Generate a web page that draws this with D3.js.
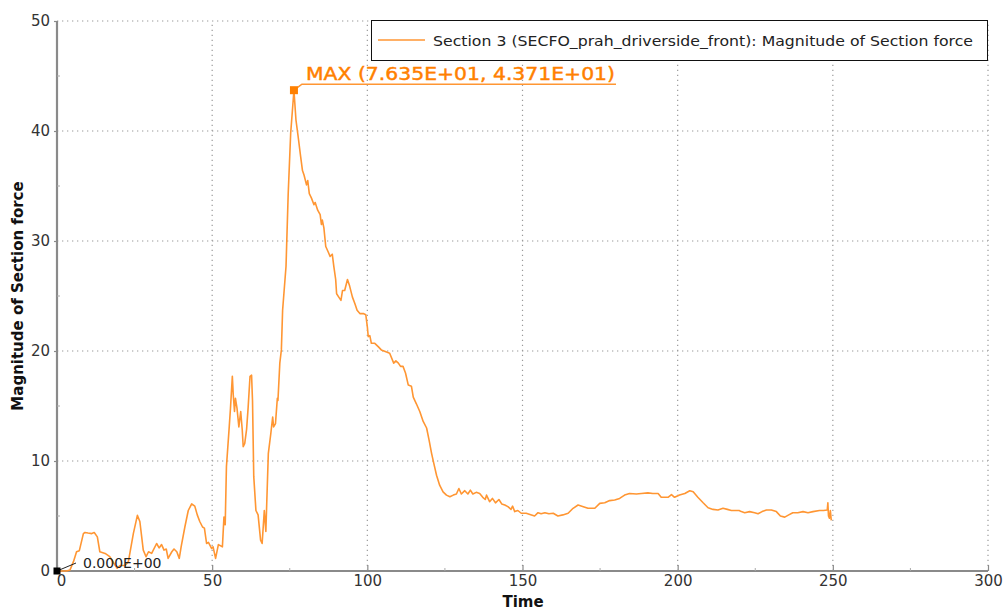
<!DOCTYPE html>
<html><head><meta charset="utf-8">
<script src="https://cdn.jsdelivr.net/npm/d3@7"></script>
<style>
html,body{margin:0;padding:0;background:#fff;}
svg{display:block;font-family:"DejaVu Sans",sans-serif;}
</style></head><body>
<svg id="c" width="1006" height="610"></svg>
<script>
const time = [0,3,4.2,5.3,6.3,7.2,8.5,9.0,10,11.2,12,13,13.8,15.5,17,18.7,19.4,20.3,21.9,23,24.6,25.9,26.7,27.8,28.7,29.5,30.5,32.1,32.9,33.7,34.5,35.2,35.8,37,37.7,38.6,39.4,40,41.2,42.3,43.4,44.4,45.2,46,46.9,47.5,48.2,48.8,49.8,50.3,51.1,52,53.3,53.8,54.2,54.6,55.5,55.9,56.5,56.8,57.2,57.5,58,58.6,59.2,59.7,60,60.5,61.1,61.6,62.2,62.7,63,63.4,64.1,64.8,65.6,66.1,66.8,67.3,68.1,68.9,69.5,69.8,70.4,71,71.2,71.8,72.3,72.7,73.8,74.5,75.3,76.35,77,77.7,78.5,79.1,79.6,80.4,80.8,81.3,82,82.8,83.2,84,84.8,85.2,85.5,86,86.6,87.4,88,88.7,89.2,89.8,90.1,90.8,91.5,92,92.7,93.6,94.3,95.2,96,96.7,97.6,98.7,99.5,100,100.3,100.8,101.3,102.4,103.5,104.5,106.2,107.2,108.5,109.2,110,110.7,111.5,112.3,113.2,114.2,114.8,115.8,116.9,118,119.1,119.9,120.7,121.4,122.3,123.3,124.4,125.5,126.6,127.7,128.7,129.5,130.3,131.4,132.4,133.2,134,135.1,136.2,137.2,138,138.4,139.4,140.3,141.3,142.4,143.3,144.3,145.3,146.3,146.8,147.5,148.5,149.6,151.2,152.9,153.9,155,156,157.2,158.5,159.9,161.4,163,164.7,166.3,167.9,169.6,171.1,173.3,174.9,176.5,178.1,179.7,181.3,182.9,184.5,186.7,188.3,190.4,192,193.7,194.7,196.9,198,199,200.6,202.3,203.9,205,206.5,208.2,209.8,211.4,213,214.6,216,217.3,219.8,220.5,221.6,223.2,224.8,225.9,227.2,228.6,230.2,231.8,233.1,234.5,235.8,237.1,238.7,240.4,242,243.6,245.7,247,248.2,248.4,248.6,248.9,249.2,249.5];
const force = [0,0,0.1,0.85,1.75,1.85,3.4,3.5,3.45,3.4,3.5,3.1,1.75,1.6,1.3,0.55,0.25,0.5,0.5,0.85,3.4,5.06,4.5,1.9,1.3,1.75,1.6,2.5,2.1,2.4,1.9,2.0,1.15,1.75,2.0,1.75,1.15,2.2,4.0,5.5,6.1,5.9,5.1,4.5,4.0,3.9,2.5,2.6,2.05,2.2,1.15,2.4,2.2,4.9,4.2,9.5,13.1,14.8,17.7,16.0,14.5,15.7,14.8,13.1,14.5,12.8,11.3,11.6,12.9,14.9,17.7,17.8,15.5,8.6,5.5,5.1,2.8,2.5,5.5,3.6,10.7,12.5,14.0,13.1,13.4,15.7,15.5,18.9,20.1,23.7,27.7,34.3,39.8,43.71,41,39.5,37.7,36.4,36.0,35.1,35.5,34.3,33.9,33.3,33.5,32.8,32.4,31.5,31.9,31.2,29.5,29.0,28.6,28.8,27.7,26.5,25.2,24.9,24.6,25.5,25.5,26.5,25.9,24.9,24.3,23.7,23.4,23.4,23.3,22.2,21.3,21.4,20.7,20.7,20.4,20.1,19.9,19.8,18.9,19.1,18.9,18.6,18.6,18.0,16.9,16.8,15.8,15.2,14.5,13.6,13.0,11.9,10.7,9.8,8.7,7.8,7.2,6.9,6.75,6.9,7.0,7.5,7.0,7.3,7.0,7.35,7.0,7.15,7.05,6.7,6.5,6.9,6.3,6.6,6.2,6.5,6.1,6.0,5.85,5.6,5.9,5.4,5.5,5.25,5.25,5.1,5.0,5.3,5.2,5.3,5.2,5.25,5.0,5.1,5.25,5.7,6.0,5.85,5.7,5.7,6.15,6.2,6.4,6.45,6.6,6.9,7.05,7.0,7.05,7.1,7.05,7.05,6.7,6.7,6.95,6.7,6.9,7.05,7.3,7.2,6.7,6.2,5.75,5.6,5.55,5.7,5.6,5.5,5.5,5.4,5.3,5.4,5.3,5.2,5.4,5.55,5.55,5.4,5.0,4.9,5.1,5.3,5.3,5.4,5.3,5.4,5.5,5.5,5.55,6.2,5.0,4.8,5.5,4.6];
const xTicks = [0,50,100,150,200,250,300];
const yTicks = [0,10,20,30,40,50];
const xMinor = [25,75,125,175,225,275];
const yMinor = [5,15,25,35,45];
const seriesName = "Section 3 (SECFO_prah_driverside_front): Magnitude of Section force";
const xTitle = "Time";
const yTitle = "Magnitude of Section force";
const maxLabel = "MAX (7.635E+01, 4.371E+01)";
const minLabel = "0.000E+00";
const maxPoint = [76.35, 43.71];
const minPoint = [0, 0];

const svg = d3.select("#c");
const x = d3.scaleLinear().domain([0,300]).range([57,988]);
const y = d3.scaleLinear().domain([0,50]).range([571,21]);
const orange = "#ff8000";
const lineCol = "#ff9633";

// grid
const g = svg.append("g");
g.selectAll(".gx").data(xTicks.filter(d=>d>0)).join("line")
  .attr("x1",d=>x(d)).attr("x2",d=>x(d)).attr("y1",y(0)).attr("y2",y(50))
  .attr("stroke","#9a9a9a").attr("stroke-width",1.2).attr("stroke-dasharray","1.3,3.7");
g.selectAll(".gy").data(yTicks.filter(d=>d>0)).join("line")
  .attr("y1",d=>y(d)).attr("y2",d=>y(d)).attr("x1",x(0)).attr("x2",x(300))
  .attr("stroke","#9a9a9a").attr("stroke-width",1.2).attr("stroke-dasharray","1.3,3.7");

// axes
const xa = svg.append("g").attr("transform",`translate(0,${y(0)})`)
  .call(d3.axisBottom(x).tickValues(xTicks).tickSize(-6).tickPadding(4).tickFormat(d3.format("d")));
const ya = svg.append("g").attr("transform",`translate(${x(0)},0)`)
  .call(d3.axisLeft(y).tickValues(yTicks).tickSize(3).tickPadding(4).tickFormat(d3.format("d")));
[xa,ya].forEach(a=>{
  a.select(".domain").attr("stroke","#8a8a8a").attr("stroke-width",2.2);
  a.selectAll(".tick line").attr("stroke","#8a8a8a").attr("stroke-width",1.2);
  a.selectAll("text").attr("fill","#333").style("font-size","15px").style("font-family","DejaVu Sans");
});
xa.selectAll(".tick").filter(d=>d===0).select("text").attr("dx",4);
xa.selectAll(".domain").attr("d",`M${x(0)},0H${x(300)}`);
ya.selectAll(".domain").attr("d",`M0,${y(0)}V${y(50)}`);
// minor ticks
svg.append("g").selectAll("line").data(xMinor).join("line")
  .attr("x1",d=>x(d)).attr("x2",d=>x(d)).attr("y1",y(0)).attr("y2",y(0)-3)
  .attr("stroke","#aaa").attr("stroke-width",1);
svg.append("g").selectAll("line").data(yMinor).join("line")
  .attr("y1",d=>y(d)).attr("y2",d=>y(d)).attr("x1",x(0)).attr("x2",x(0)+3)
  .attr("stroke","#aaa").attr("stroke-width",1);

// titles
svg.append("text").attr("x",523).attr("y",607).attr("text-anchor","middle")
  .attr("font-weight","bold").attr("font-size",15).attr("fill","#111").text(xTitle);
svg.append("text").attr("transform","translate(23,296) rotate(-90)").attr("text-anchor","middle")
  .attr("font-weight","bold").attr("font-size",15).attr("fill","#111").text(yTitle);

// series
const data = time.map((t,i)=>[t,force[i]]);
svg.append("path").datum(data)
  .attr("d", d3.line().x(d=>x(d[0])).y(d=>y(d[1])))
  .attr("fill","none").attr("stroke",lineCol).attr("stroke-width",1.6).attr("stroke-linejoin","round");

// MAX annotation
const mx = x(maxPoint[0]), my = y(maxPoint[1]);
svg.append("path").attr("d",`M${mx},${my}L${mx+8},${my-6}H616`)
  .attr("fill","none").attr("stroke",lineCol).attr("stroke-width",1.6);
svg.append("rect").attr("x",mx-4).attr("y",my-4).attr("width",8).attr("height",8).attr("fill",orange);
svg.append("text").attr("x",306).attr("y",80).attr("fill",orange).attr("stroke",orange).attr("stroke-width",0.45)
  .attr("font-size",18)
  .attr("textLength",309).attr("lengthAdjust","spacingAndGlyphs").text(maxLabel);

// MIN annotation
const nx = x(minPoint[0]), ny = y(minPoint[1]);
svg.append("path").attr("d",`M${nx},${ny}L${nx+19},${ny-8}`)
  .attr("fill","none").attr("stroke","#222").attr("stroke-width",1);
svg.append("rect").attr("x",nx-3.5).attr("y",ny-3.5).attr("width",7).attr("height",7).attr("fill","#000");
svg.append("text").attr("x",83).attr("y",568).attr("fill","#222").attr("font-size",14).text(minLabel);

// legend
svg.append("rect").attr("x",371.5).attr("y",20.5).attr("width",616).attr("height",40)
  .attr("fill","#fff").attr("stroke","#111").attr("stroke-width",1);
svg.append("line").attr("x1",378).attr("x2",425).attr("y1",40).attr("y2",40)
  .attr("stroke",lineCol).attr("stroke-width",1.5);
svg.append("text").attr("x",433).attr("y",45.5).attr("fill","#222").attr("font-size",14)
  .attr("textLength",540).attr("lengthAdjust","spacingAndGlyphs").text(seriesName);
</script>
</body></html>
